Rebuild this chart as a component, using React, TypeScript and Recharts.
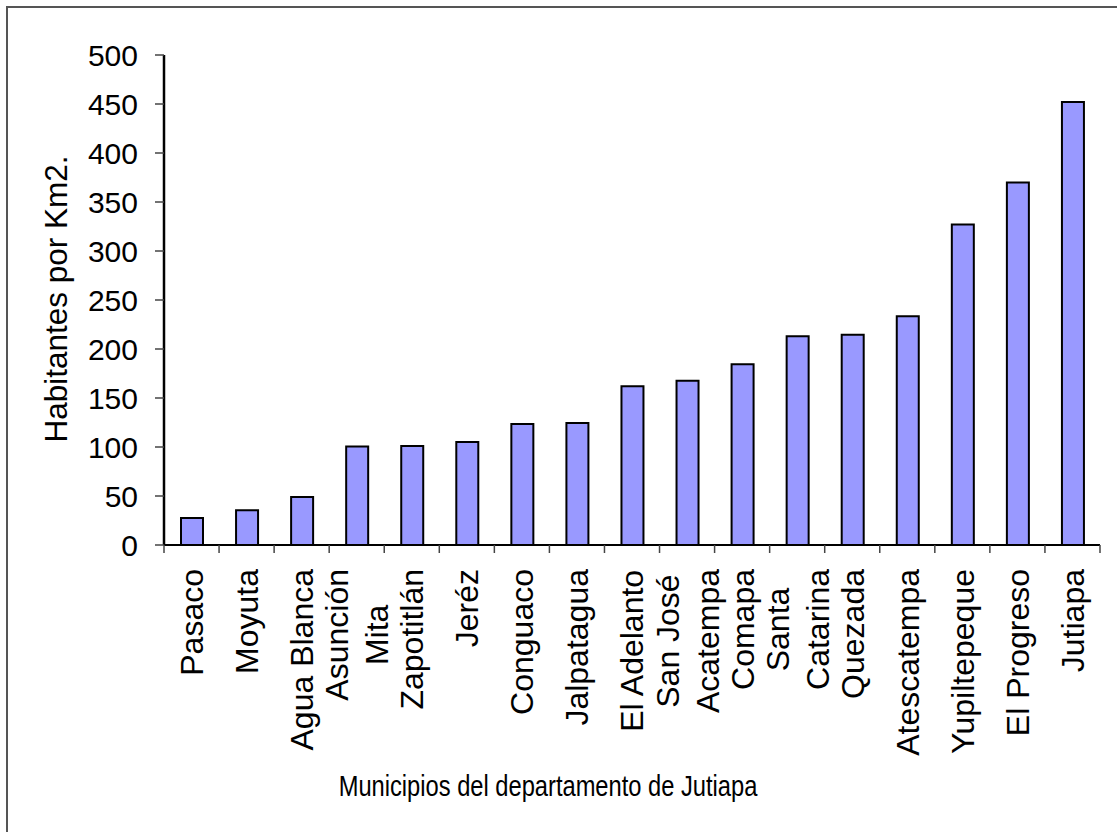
import React from 'react';
import { BarChart, Bar, XAxis, YAxis, Label } from 'recharts';

const categories: string[] = [
  'Pasaco', 'Moyuta', 'Agua Blanca', 'Asunción\nMita', 'Zapotitlán', 'Jeréz',
  'Conguaco', 'Jalpatagua', 'El Adelanto', 'San José\nAcatempa', 'Comapa',
  'Santa\nCatarina', 'Quezada', 'Atescatempa', 'Yupiltepeque', 'El Progreso', 'Jutiapa',
];
const density: number[] = [
  27.5, 35.5, 49, 100.5, 101, 105, 123.5, 124.5, 162, 167.5, 184.5,
  213, 214.5, 233.5, 327, 370, 452,
];
const yTicks: number[] = [0, 50, 100, 150, 200, 250, 300, 350, 400, 450, 500];
const yTitle = 'Habitantes por Km2.';
const xTitle = 'Municipios del departamento de Jutiapa';

const data = categories.map((name, i) => ({ name, value: density[i] }));

const FONT = '"Liberation Sans", Arial, Helvetica, sans-serif';
const LABEL_SIZE = 32;

let ctx: CanvasRenderingContext2D | null = null;
function measure(text: string, size: number): number {
  if (!ctx) {
    const c = document.createElement('canvas');
    ctx = c.getContext('2d');
  }
  if (!ctx) return text.length * size * 0.55;
  ctx.font = `${size}px "Liberation Sans", Arial, sans-serif`;
  return ctx.measureText(text).width;
}

function XTick(props: any) {
  const { x, y, payload, index, width } = props;
  const n = categories.length;
  const half = payload && payload.offset ? payload.offset : (width || 936) / n / 2;
  const lines = String(payload.value).split('\n');
  const lens = lines.map((l) => measure(l, LABEL_SIZE));
  const maxLen = Math.max(...lens);
  const lh = 40;
  const cap = LABEL_SIZE * 0.716;
  return (
    <g>
      <line x1={x - half} y1={y} x2={x - half} y2={y + 8} stroke="#444" strokeWidth={1.5} />
      {index === n - 1 && (
        <line x1={x + half} y1={y} x2={x + half} y2={y + 8} stroke="#444" strokeWidth={1.5} />
      )}
      <g transform={`translate(${x},${y + 24}) rotate(-90)`}>
        {lines.map((l, i) => (
          <text
            key={i}
            x={-maxLen / 2}
            y={(i - (lines.length - 1) / 2) * lh + cap / 2}
            textAnchor="middle"
            fontSize={LABEL_SIZE}
            fontFamily={FONT}
            fill="#000"
          >
            {l}
          </text>
        ))}
      </g>
    </g>
  );
}

function YTitle(props: any) {
  const vb = props.viewBox || { x: 0, y: 55, width: 164, height: 490 };
  const cy = vb.y + vb.height / 2;
  return (
    <text
      transform={`translate(${vb.x + 67},${cy - 1}) rotate(-90)`}
      textAnchor="middle"
      fontSize={31.5}
      fontFamily={FONT}
      fill="#000"
    >
      {yTitle}
    </text>
  );
}

function XTitle() {
  return (
    <text
      transform="translate(548,796) scale(0.79,1)"
      textAnchor="middle"
      fontSize={30}
      fontFamily={FONT}
      fill="#000"
    >
      {xTitle}
    </text>
  );
}

export default function App() {
  return (
    <div
      style={{
        position: 'absolute',
        left: 0,
        top: 0,
        width: 1117,
        height: 832,
        overflow: 'hidden',
        background: '#fff',
      }}
    >
      <div
        style={{
          position: 'absolute',
          left: 6,
          top: 6,
          width: 1300,
          height: 1100,
          borderTop: '2px solid #555',
          borderLeft: '2px solid #555',
          boxSizing: 'border-box',
        }}
      />
      <div style={{ position: 'absolute', left: 0, top: 0 }}>
        <BarChart
          width={1117}
          height={832}
          data={data}
          margin={{ top: 55, right: 17, bottom: 0, left: 0 }}
          barSize={22}
        >
          <XAxis
            dataKey="name"
            interval={0}
            height={287}
            tickSize={0}
            tickMargin={0}
            tickLine={false}
            axisLine={{ stroke: '#000', strokeWidth: 2 }}
            tick={<XTick />}
          >
            <Label content={<XTitle />} />
          </XAxis>
          <XAxis
            xAxisId="top"
            dataKey="name"
            orientation="top"
            height={0}
            tick={false}
            tickLine={false}
            axisLine={{ stroke: '#000', strokeWidth: 2 }}
          />
          <YAxis
            width={164}
            domain={[0, 500]}
            ticks={yTicks}
            interval={0}
            tickSize={9}
            tickMargin={17}
            tickLine={{ stroke: '#444', strokeWidth: 1.5 }}
            axisLine={{ stroke: '#000', strokeWidth: 2.5 }}
            tick={{ fontSize: 30, fontFamily: FONT, fill: '#000' }}
          >
            <Label content={<YTitle />} />
          </YAxis>
          <YAxis
            yAxisId="right"
            orientation="right"
            width={0}
            domain={[0, 500]}
            tick={false}
            tickLine={false}
            axisLine={{ stroke: '#000', strokeWidth: 2 }}
          />
          <Bar
            dataKey="value"
            fill="#9999FF"
            stroke="#000"
            strokeWidth={2}
            isAnimationActive={false}
          />
        </BarChart>
      </div>
    </div>
  );
}
